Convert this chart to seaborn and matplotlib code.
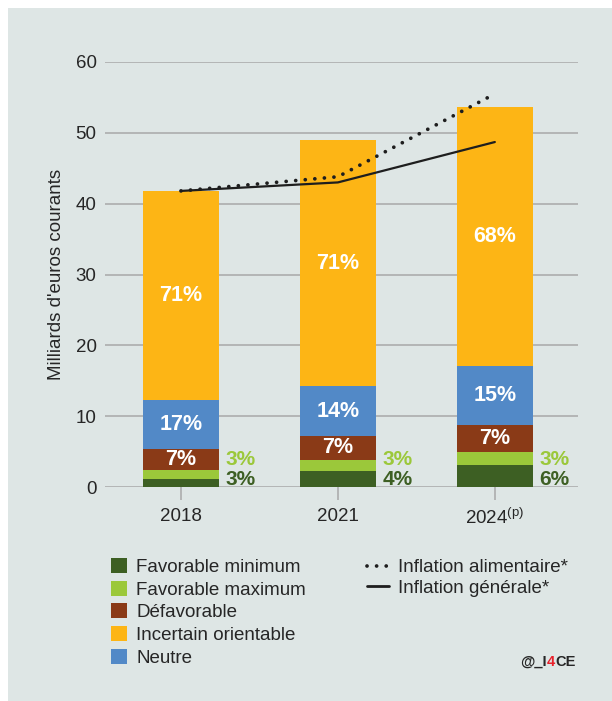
import numpy as np
import pandas as pd
import seaborn as sns
import matplotlib
matplotlib.use("Agg")
import matplotlib.pyplot as plt
from matplotlib.patches import Patch, Rectangle
from matplotlib.lines import Line2D

# ---------------- data ----------------
years = ["2018", "2021", "2024"]
year_labels = ["2018", "2021", "2024$^{(\\mathrm{p})}$"]
categories = ["Favorable minimum", "Favorable maximum", "Défavorable",
              "Incertain orientable", "Neutre"]
# stacked order from bottom: fav min, fav max, defavorable, neutre, incertain
fav_min = [1.13, 2.26, 3.10]
fav_max = [1.27, 1.55, 1.90]
defav = [3.00, 3.40, 3.76]
neutre = [6.90, 7.00, 8.34]
incertain = [29.5, 34.8, 36.6]
pct_fav_min = ["3%", "4%", "6%"]
pct_fav_max = ["3%", "3%", "3%"]
pct_defav = ["7%", "7%", "7%"]
pct_neutre = ["17%", "14%", "15%"]
pct_incertain = ["71%", "71%", "68%"]
infl_alim = [41.8, 43.8, 55.5]
infl_gen = [41.8, 43.0, 48.7]
y_ticks = [0, 10, 20, 30, 40, 50, 60]

# ---------------- style ----------------
sns.set_theme(style="white")
plt.rcParams["font.family"] = ["Liberation Sans", "DejaVu Sans"]
plt.rcParams["mathtext.fontset"] = "custom"
plt.rcParams["mathtext.rm"] = "Liberation Sans"
plt.rcParams["mathtext.it"] = "Liberation Sans"
plt.rcParams["mathtext.bf"] = "Liberation Sans:bold"

C_FMIN = "#3D5F23"
C_FMAX = "#9BC83A"
C_DEF = "#8A3A17"
C_INC = "#FDB515"
C_NEU = "#5289C7"
BG = "#DEE6E5"
GRID = "#A8A8A8"
TXT = "#262626"

fig = plt.figure(figsize=(6.12, 7.01), dpi=100, facecolor="white")
fig.add_artist(Rectangle((8 / 612, 0), 1 - 8 / 612, 1 - 8 / 701,
                         transform=fig.transFigure, facecolor=BG,
                         edgecolor="none", zorder=-10))
ax = fig.add_axes([105 / 612, 1 - 487 / 701, (578 - 105) / 612, (487 - 62) / 701])
ax.set_facecolor("none")

df = pd.DataFrame({"year": years, "fmin": fav_min, "fmax": fav_max,
                   "def": defav, "neu": neutre, "inc": incertain})
order = [("fmin", C_FMIN), ("fmax", C_FMAX), ("def", C_DEF),
         ("neu", C_NEU), ("inc", C_INC)]
bottom = np.zeros(len(years))
bottoms = {}
for col, colr in order:
    bottoms[col] = bottom.copy()
    sns.barplot(data=df, x="year", y=col, color=colr, bottom=bottom,
                width=0.484, ax=ax, saturation=1, zorder=2, linewidth=0)
    bottom = bottom + df[col].values

xs = np.arange(len(years))
sns.lineplot(x=xs, y=infl_gen, ax=ax, color="#1E1E1E", linewidth=1.6, zorder=5)
sns.lineplot(x=xs, y=infl_alim, ax=ax, color="#1E1E1E", linewidth=2.7,
             linestyle=(0, (0.01, 2.55)), dash_capstyle="round", zorder=6)

# labels inside bars
for col, labs in [("def", pct_defav), ("neu", pct_neutre), ("inc", pct_incertain)]:
    for i, lab in enumerate(labs):
        yc = bottoms[col][i] + df[col].values[i] / 2
        ax.text(i, yc, lab, ha="center", va="center", color="white",
                fontsize=15.5, fontweight="bold", zorder=7)

# labels outside the bars (green categories)
for i in range(len(years)):
    ax.annotate(pct_fav_max[i], xy=(i + 0.242, 3.85), xytext=(5, 0),
                textcoords="offset points", ha="left", va="center",
                color=C_FMAX, fontsize=15, fontweight="bold")
    ax.annotate(pct_fav_min[i], xy=(i + 0.242, 1.05), xytext=(5, 0),
                textcoords="offset points", ha="left", va="center",
                color=C_FMIN, fontsize=15, fontweight="bold")

ax.set_xlim(-0.484, 2.53)
ax.set_ylim(0, 60)
ax.set_yticks(y_ticks)
ax.set_yticklabels([str(t) for t in y_ticks])
ax.set_xticks(xs)
ax.set_xticklabels(year_labels)
for s in ax.spines.values():
    s.set_visible(False)
ax.grid(axis="y", color=GRID, linewidth=1.1, zorder=0)
ax.set_axisbelow(True)
ax.tick_params(axis="y", length=0, pad=6, labelsize=13.5, labelcolor=TXT)
ax.tick_params(axis="x", length=9, width=1.1, color=GRID, pad=6,
               labelsize=13.5, labelcolor=TXT, direction="out", bottom=True)
ax.set_xlabel("")
ax.set_ylabel("Milliards d'euros courants", fontsize=13.5, color=TXT, labelpad=8)

# legends
h1 = [Patch(facecolor=c, edgecolor="none") for c in [C_FMIN, C_FMAX, C_DEF, C_INC, C_NEU]]
leg1 = fig.legend(h1, categories, loc="upper left",
                  bbox_to_anchor=(111 / 612, 1 - 558 / 701), frameon=False,
                  fontsize=13.5, handlelength=0.85, handleheight=0.85,
                  labelspacing=0.25, handletextpad=0.5, borderpad=0,
                  borderaxespad=0, labelcolor=TXT)
h2 = [Line2D([], [], color="#1E1E1E", linewidth=2.7, linestyle=(0, (0.01, 2.55)),
             dash_capstyle="round"),
      Line2D([], [], color="#1E1E1E", linewidth=2.0)]
leg2 = fig.legend(h2, ["Inflation alimentaire*", "Inflation générale*"],
                  loc="upper left", bbox_to_anchor=(367 / 612, 1 - 559 / 701),
                  frameon=False, fontsize=13.5, handlelength=1.15,
                  labelspacing=0.2, handletextpad=0.5, borderpad=0,
                  borderaxespad=0, labelcolor=TXT)

t1 = fig.text(520 / 612, 1 - 666 / 701, "@_I", ha="left", va="baseline",
              fontsize=10.5, fontweight="bold", color=TXT)
t2 = fig.text(0, 0, "4", fontsize=10.5, fontweight="bold", color="#E8202A",
              ha="left", va="baseline")
t3 = fig.text(0, 0, "CE", fontsize=10.5, fontweight="bold", color=TXT,
              ha="left", va="baseline")
fig.canvas.draw()
r = fig.canvas.get_renderer()
inv = fig.transFigure.inverted()
bb1 = t1.get_window_extent(r)
t2.set_position((inv.transform((bb1.x1, 0))[0], t1.get_position()[1]))
fig.canvas.draw()
bb2 = t2.get_window_extent(r)
t3.set_position((inv.transform((bb2.x1, 0))[0], t1.get_position()[1]))

fig.savefig("out.png", dpi=100, facecolor="white")
